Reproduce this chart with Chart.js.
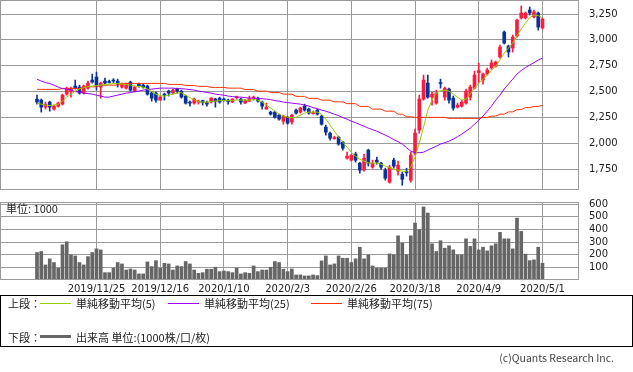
<!DOCTYPE html>
<html lang="ja">
<head>
<meta charset="utf-8">
<script src="https://cdn.jsdelivr.net/npm/chart.js@4.4.0/dist/chart.umd.min.js"></script>
<style>
    body { margin: 0; background: #fff; }
    #page { position: relative; width: 633px; height: 372px; overflow: hidden; }
    #price { position: absolute; left: 0; top: 0; }
    #volume { position: absolute; left: 0; top: 190px; }
    #unit { position: absolute; left: 6px; top: 201px; font: 11px "Noto Sans CJK JP", sans-serif; color: #222; line-height: 14px; }
    #legend { position: absolute; left: 0; top: 295px; width: 631px; height: 50px; border: 1px solid #000; font: 11px "Noto Sans CJK JP", sans-serif; color: #222; }
    #legend span { position: absolute; line-height: 14px; white-space: nowrap; }
    #legend .ln { height: 1px; width: 31px; }
    #copy { position: absolute; right: 19px; top: 351px; font: 10.5px "Noto Sans CJK JP", sans-serif; color: #444; line-height: 14px; }
</style>
</head>
<body>
<div id="page">
    <canvas id="price" width="633" height="190"></canvas>
    <canvas id="volume" width="633" height="110"></canvas>
    <div id="unit">単位: 1000</div>
    <div id="legend">
        <span style="left:7px;top:0">上段：</span>
        <span class="ln" style="left:39px;top:7px;background:#99cc00"></span>
        <span style="left:75px;top:0">単純移動平均(5)</span>
        <span class="ln" style="left:167px;top:7px;background:#9900ff"></span>
        <span style="left:203px;top:0">単純移動平均(25)</span>
        <span class="ln" style="left:310px;top:7px;background:#ff3300"></span>
        <span style="left:346px;top:0">単純移動平均(75)</span>
        <span style="left:7px;top:34px">下段：</span>
        <span style="left:39px;top:39px;width:31px;height:3px;background:#666"></span>
        <span style="left:75px;top:34px">出来高 単位:(1000株/口/枚)</span>
    </div>
    <div id="copy">(c)Quants Research Inc.</div>
</div>
<script>
// daily prices, 2019/11/5 .. 2020/5/1 (120 trading days)
const openPrices = [
    2427, 2417, 2349, 2398, 2330, 2359, 2378, 2475, 2504, 2553,
    2543, 2485, 2533, 2611, 2640, 2543, 2601, 2596, 2611, 2601,
    2543, 2533, 2591, 2504, 2572, 2562, 2553, 2485, 2485, 2417,
    2475, 2504, 2485, 2524, 2504, 2456, 2398, 2388, 2398, 2412,
    2393, 2398, 2427, 2436, 2427, 2417, 2398, 2441, 2427, 2388,
    2407, 2436, 2436, 2398, 2330, 2301, 2301, 2272, 2213, 2252,
    2204, 2320, 2301, 2359, 2330, 2286, 2320, 2262, 2155, 2097,
    2044, 2058, 2010, 1855, 1836, 1894, 1807, 1739, 1933, 1768,
    1836, 1807, 1739, 1622, 1836, 1729, 1700, 1724, 1642, 1903,
    2126, 2427, 2582, 2446, 2388, 2586, 2446, 2524, 2436, 2349,
    2359, 2388, 2446, 2533, 2683, 2611, 2669, 2727, 2746, 2834,
    3076, 2940, 2921, 3037, 3212, 3212, 3289, 3221, 3260, 3115
];
const highPrices = [
    2465, 2427, 2398, 2407, 2369, 2398, 2475, 2543, 2543, 2611,
    2562, 2562, 2601, 2669, 2688, 2591, 2630, 2611, 2625, 2620,
    2582, 2582, 2601, 2553, 2582, 2572, 2562, 2495, 2495, 2456,
    2485, 2514, 2524, 2533, 2514, 2465, 2407, 2436, 2417, 2417,
    2407, 2441, 2436, 2446, 2436, 2427, 2431, 2456, 2436, 2422,
    2456, 2456, 2446, 2407, 2388, 2310, 2310, 2281, 2272, 2262,
    2281, 2330, 2349, 2378, 2340, 2310, 2330, 2272, 2175, 2107,
    2068, 2068, 2019, 1913, 1894, 1913, 1816, 1894, 1942, 1836,
    1865, 1816, 1758, 1787, 1855, 1826, 1719, 1758, 1913, 2136,
    2465, 2659, 2659, 2495, 2514, 2620, 2543, 2533, 2456, 2388,
    2417, 2524, 2562, 2698, 2776, 2679, 2727, 2805, 2795, 2950,
    3086, 2950, 3047, 3202, 3328, 3270, 3318, 3289, 3270, 3212
];
const lowPrices = [
    2378, 2301, 2330, 2310, 2320, 2349, 2369, 2465, 2446, 2524,
    2475, 2475, 2524, 2582, 2514, 2436, 2572, 2582, 2587, 2543,
    2533, 2524, 2504, 2495, 2543, 2533, 2465, 2407, 2398, 2417,
    2417, 2456, 2475, 2485, 2436, 2378, 2359, 2378, 2378, 2369,
    2359, 2388, 2349, 2388, 2407, 2378, 2393, 2427, 2378, 2383,
    2403, 2417, 2398, 2330, 2330, 2272, 2243, 2223, 2184, 2184,
    2184, 2281, 2291, 2310, 2281, 2281, 2272, 2175, 2078, 2029,
    2039, 1981, 1933, 1845, 1826, 1816, 1710, 1729, 1778, 1758,
    1797, 1748, 1642, 1613, 1758, 1690, 1593, 1681, 1622, 1884,
    2097, 2417, 2436, 2369, 2378, 2533, 2417, 2388, 2320, 2340,
    2349, 2378, 2417, 2524, 2582, 2572, 2659, 2717, 2737, 2824,
    2960, 2834, 2882, 3027, 3202, 3202, 3241, 3212, 3095, 3105
];
const closePrices = [
    2398, 2349, 2378, 2349, 2359, 2388, 2465, 2533, 2533, 2533,
    2485, 2553, 2582, 2591, 2553, 2582, 2582, 2587, 2601, 2572,
    2572, 2572, 2514, 2543, 2553, 2543, 2475, 2436, 2417, 2446,
    2465, 2485, 2514, 2504, 2446, 2388, 2388, 2427, 2407, 2393,
    2378, 2436, 2407, 2398, 2412, 2403, 2427, 2446, 2398, 2417,
    2431, 2446, 2407, 2359, 2349, 2281, 2252, 2233, 2262, 2194,
    2272, 2291, 2340, 2320, 2291, 2296, 2281, 2184, 2107, 2049,
    2054, 1991, 1952, 1874, 1884, 1836, 1739, 1855, 1807, 1807,
    1816, 1768, 1661, 1768, 1778, 1787, 1651, 1714, 1884, 2097,
    2427, 2611, 2446, 2475, 2485, 2577, 2533, 2417, 2340, 2369,
    2398, 2504, 2543, 2659, 2703, 2669, 2708, 2776, 2785, 2931,
    2969, 2882, 3027, 3192, 3260, 3260, 3260, 3270, 3124, 3202
];
const ma5 = [
    2388, 2378, 2369, 2364, 2369, 2378, 2407, 2446, 2475, 2504,
    2524, 2538, 2548, 2553, 2558, 2562, 2567, 2572, 2577, 2577,
    2572, 2567, 2562, 2553, 2548, 2543, 2524, 2499, 2475, 2461,
    2456, 2465, 2475, 2485, 2490, 2465, 2441, 2422, 2402, 2398,
    2398, 2402, 2407, 2412, 2412, 2412, 2412, 2417, 2417, 2417,
    2417, 2422, 2417, 2398, 2369, 2340, 2310, 2281, 2262, 2252,
    2247, 2252, 2272, 2291, 2301, 2301, 2301, 2281, 2233, 2175,
    2117, 2058, 2010, 1962, 1913, 1874, 1845, 1826, 1811, 1807,
    1807, 1797, 1778, 1763, 1748, 1739, 1729, 1729, 1768, 1865,
    2000, 2155, 2320, 2417, 2485, 2509, 2514, 2504, 2475, 2446,
    2417, 2427, 2475, 2533, 2582, 2616, 2659, 2708, 2746, 2805,
    2872, 2921, 2969, 3037, 3105, 3163, 3216, 3241, 3236, 3212
];
const ma25 = [
    2620, 2601, 2587, 2577, 2562, 2543, 2528, 2524, 2514, 2499,
    2495, 2485, 2480, 2475, 2465, 2456, 2446, 2446, 2456, 2465,
    2475, 2485, 2490, 2499, 2504, 2514, 2519, 2524, 2528, 2533,
    2533, 2533, 2533, 2528, 2528, 2524, 2519, 2514, 2504, 2499,
    2490, 2485, 2475, 2470, 2465, 2456, 2451, 2446, 2446, 2441,
    2436, 2436, 2431, 2431, 2427, 2422, 2412, 2407, 2398, 2393,
    2388, 2383, 2378, 2369, 2359, 2344, 2335, 2320, 2310, 2296,
    2281, 2267, 2247, 2233, 2213, 2199, 2180, 2165, 2146, 2131,
    2117, 2097, 2078, 2058, 2034, 2015, 1991, 1957, 1923, 1908,
    1908, 1913, 1933, 1952, 1971, 1991, 2005, 2020, 2039, 2063,
    2088, 2117, 2146, 2184, 2223, 2262, 2310, 2359, 2417, 2465,
    2524, 2572, 2620, 2669, 2703, 2732, 2756, 2780, 2805, 2824
];
const ma75 = [
    2521, 2521, 2521, 2521, 2521, 2521, 2530, 2530, 2530, 2530,
    2530, 2546, 2546, 2546, 2546, 2562, 2562, 2562, 2562, 2562,
    2579, 2579, 2579, 2579, 2579, 2579, 2579, 2579, 2579, 2579,
    2579, 2569, 2569, 2569, 2569, 2559, 2559, 2559, 2550, 2550,
    2550, 2540, 2540, 2540, 2540, 2533, 2533, 2533, 2533, 2519,
    2519, 2519, 2504, 2504, 2504, 2490, 2490, 2490, 2475, 2475,
    2475, 2453, 2453, 2453, 2434, 2434, 2434, 2417, 2417, 2417,
    2400, 2400, 2400, 2383, 2383, 2383, 2356, 2356, 2356, 2330,
    2330, 2330, 2310, 2310, 2310, 2281, 2281, 2256, 2256, 2250,
    2250, 2250, 2250, 2250, 2250, 2250, 2250, 2240, 2240, 2240,
    2240, 2240, 2240, 2240, 2240, 2250, 2250, 2262, 2262, 2281,
    2281, 2303, 2303, 2325, 2325, 2345, 2345, 2356, 2356, 2366
];
// volume, 1000 shares
const volumes = [
    217, 225, 119, 167, 138,  93, 278, 302, 198, 190,
    138, 119, 185, 217, 246, 238,  58,  58,  93, 138,
    127,  79,  87,  79,  48,  48, 143, 106, 153,  93,
    132, 127,  79, 111, 106, 146, 127,  79,  53,  58,
     85,  85, 101,  66,  71,  66,  58,  93,  48,  58,
     53, 111,  66,  79,  79, 101, 146, 138,  85,  66,
     87,  40,  40,  32,  32,  40,  35, 151, 190, 119,
    127, 190, 172, 172, 138, 167, 259, 167, 198, 111,
     93,  93,  93, 206, 198, 349, 291, 198, 349, 450,
    397, 577, 529, 286, 225, 310, 251, 270, 238, 198,
    198, 325, 265, 325, 238, 259, 230, 270, 286, 376,
    325, 325, 246, 489, 384, 204, 153, 159, 259, 132
];
// day index of each date label, and the labels
const tickIndex = [14, 29, 44, 59, 74, 89, 104, 119];
const tickLabels = ['2019/11/25', '2019/12/16', '2020/1/10', '2020/2/3', '2020/2/26', '2020/3/18', '2020/4/9', '2020/5/1'];
const priceTicks = [1750, 2000, 2250, 2500, 2750, 3000, 3250];
const volumeTicks = [100, 200, 300, 400, 500, 600];

const upColor = '#ff1a3d';
const downColor = '#0a3399';
const gridColor = '#9a9a9a';
const xMin = -8.71;
const xMax = 127.6;
const tickFont = { family: 'DejaVu Sans', size: 10 };

const candleColors = closePrices.map((c, i) => c >= openPrices[i] ? upColor : downColor);
const toPoints = arr => arr.map((v, i) => ({ x: i, y: v }));

// box round the plot area
const frame = {
    id: 'frame',
    afterDraw(chart) {
        const a = chart.chartArea;
        const c = chart.ctx;
        c.save();
        c.strokeStyle = gridColor;
        c.lineWidth = 1;
        c.strokeRect(Math.round(a.left) + 0.5, Math.round(a.top) + 0.5,
            Math.round(a.right - a.left) - 1, Math.round(a.bottom - a.top) - 1);
        c.restore();
    }
};

function noPadding(scale) {
    scale.paddingTop = 0;
    scale.paddingBottom = 0;
    scale.paddingLeft = 0;
    scale.paddingRight = 0;
}

function xScale(showLabels, height) {
    return {
        type: 'linear',
        min: xMin,
        max: xMax,
        offset: false,
        grid: { color: gridColor, drawTicks: false, offset: false },
        border: { display: false },
        ticks: {
            display: showLabels,
            autoSkip: false,
            maxRotation: 0,
            padding: 3,
            color: '#222',
            font: tickFont,
            callback: function (value) {
                const k = tickIndex.indexOf(value);
                return k >= 0 ? tickLabels[k] : '';
            }
        },
        afterBuildTicks: function (scale) {
            scale.ticks = tickIndex.map(v => ({ value: v }));
        },
        afterFit: function (scale) {
            scale.height = height;
            noPadding(scale);
        }
    };
}

function yScale(min, max, ticks) {
    return {
        position: 'right',
        min: min,
        max: max,
        grid: { color: gridColor, drawTicks: false },
        border: { display: false },
        ticks: {
            autoSkip: false,
            padding: 10,
            color: '#222',
            font: tickFont,
            callback: function (value) {
                return value.toLocaleString('en-US');
            }
        },
        afterBuildTicks: function (scale) {
            scale.ticks = ticks.map(v => ({ value: v }));
        },
        afterFit: function (scale) {
            scale.width = 54;
            noPadding(scale);
        }
    };
}

new Chart(document.getElementById('price'), {
    type: 'bar',
    data: {
        datasets: [
            { type: 'line', data: toPoints(ma5), borderColor: '#99cc00', borderWidth: 1, pointRadius: 0, order: 0 },
            { type: 'line', data: toPoints(ma25), borderColor: '#9900ff', borderWidth: 1, pointRadius: 0, order: 0 },
            { type: 'line', data: toPoints(ma75), borderColor: '#ff3300', borderWidth: 1, pointRadius: 0, order: 0 },
            {
                // wicks
                data: lowPrices.map((l, i) => ({ x: i, y: [l, highPrices[i]] })),
                backgroundColor: candleColors,
                barThickness: 1,
                grouped: false,
                order: 2
            },
            {
                // bodies
                data: openPrices.map((o, i) => ({ x: i, y: [o, closePrices[i]] })),
                backgroundColor: candleColors,
                barThickness: 3,
                minBarLength: 1,
                grouped: false,
                order: 1
            }
        ]
    },
    options: {
        responsive: false,
        animation: false,
        layout: { padding: 0 },
        plugins: { legend: { display: false }, tooltip: { enabled: false } },
        scales: {
            x: xScale(false, 0),
            y: yScale(1547, 3386, priceTicks)
        }
    },
    plugins: [frame]
});

new Chart(document.getElementById('volume'), {
    type: 'bar',
    data: {
        datasets: [{
            data: toPoints(volumes),
            backgroundColor: '#666666',
            barThickness: 3
        }]
    },
    options: {
        responsive: false,
        animation: false,
        layout: { padding: { top: 12 } },
        plugins: { legend: { display: false }, tooltip: { enabled: false } },
        scales: {
            x: xScale(true, 20),
            y: yScale(0, 616, volumeTicks)
        }
    },
    plugins: [frame]
});
</script>
</body>
</html>
